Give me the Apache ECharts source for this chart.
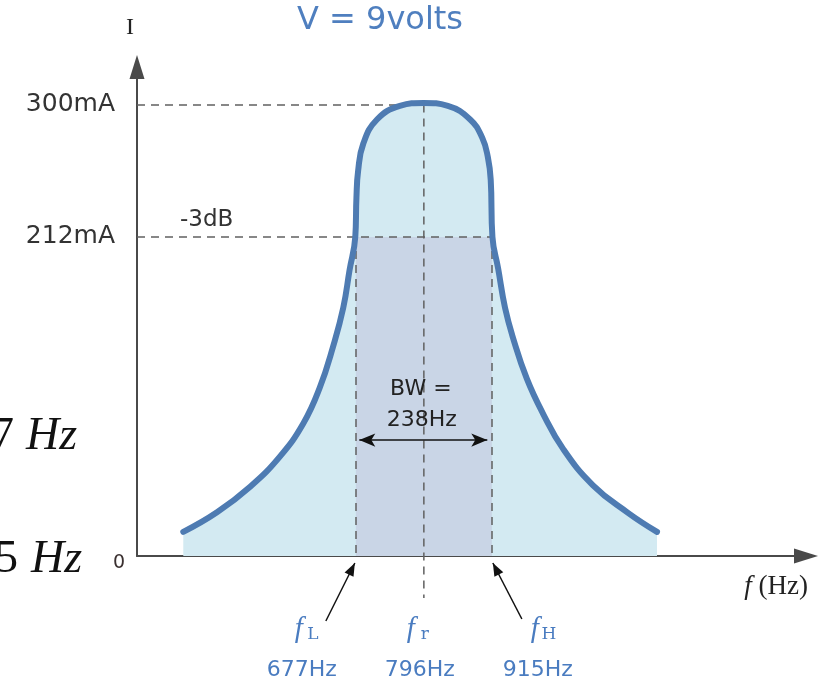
<!DOCTYPE html>
<html><head><meta charset="utf-8">
<script src="https://cdn.jsdelivr.net/npm/echarts@6/dist/echarts.min.js"></script>
<style>html,body{margin:0;padding:0;background:#fff}#c{width:818px;height:682px}</style>
</head><body><div id="c"></div>
<script>
// ---- data ----
const freqHz = [375,434,492,544,585,614,637,655,666,676,678,681,690,714,754,796,838,877,898,908,913,916,926,938,952,976,1004,1040,1092,1152,1204];
const currentMA = [16,29,46,66,88,112,139,165,190,212,238,256,274,290,299,301,299,290,278,265,250,212,191,165,145,118,95,71,47,29,16];
const fLow = 677, fRes = 796, fHigh = 915;
const iPeak = 300, iHalf = 212;
const yTickValues = [0, 212, 300];
const freqNames = [['f','L'], ['f','r'], ['f','H']];
const freqLabels = ['677Hz', '796Hz', '915Hz'];
const bwLines = ['BW =', '238Hz'];
const titleText = 'V = 9volts';
const dbText = '-3dB';

const curve = freqHz.map((f, i) => [f, currentMA[i]]);
const chart = echarts.init(document.getElementById('c'), null, {renderer: 'canvas'});
const axisLineStyle = {color: '#4a4a4a', width: 2};
const dash = {type: [8, 6], color: '#606060', width: 1.5};

chart.setOption({
  animation: false,
  grid: {left: 137, right: 12, top: 67, bottom: 126},
  xAxis: {
    type: 'value', min: 294, max: 1464.75,
    axisLine: {show: true, onZero: false, symbol: ['none', 'triangle'], symbolSize: [15, 24], lineStyle: axisLineStyle},
    axisTick: {show: false}, axisLabel: {show: false}, splitLine: {show: false}
  },
  yAxis: {
    type: 'value', min: 0, max: 324.9,
    axisLine: {show: true, symbol: ['none', 'triangle'], symbolSize: [15, 24], lineStyle: axisLineStyle},
    axisTick: {show: false}, splitLine: {show: false},
    axisLabel: {
      customValues: yTickValues, margin: 12,
      formatter: v => v === 0 ? '{z|0}' : '{m|' + v + 'mA}',
      rich: {
        z: {fontSize: 19, color: '#3a3030', fontFamily: 'DejaVu Sans', padding: [14, 0, 0, 0]},
        m: {fontSize: 25, color: '#333', fontFamily: 'DejaVu Sans', padding: [0, 10, 0, 0]}
      }
    }
  },
  series: [
    {type: 'line', data: curve, smooth: 0.45, symbol: 'none', silent: true,
     lineStyle: {width: 0, opacity: 0}, areaStyle: {color: '#d3eaf2', opacity: 1}, z: 1},
    {type: 'line', data: [], silent: true, z: 2,
     markArea: {z: 2, silent: true, itemStyle: {color: '#c9d5e6', opacity: 1}, data: [[{coord: [fLow, 0]}, {coord: [fHigh, iHalf]}]]}},
    {type: 'line', data: [], silent: true, z: 3,
     markLine: {z: 3, silent: true, symbol: 'none', label: {show: false}, lineStyle: dash, animation: false,
       data: [
         [{coord: [294, iPeak]}, {coord: [fRes, iPeak]}],
         [{coord: [294, iHalf]}, {coord: [fHigh, iHalf]}],
         [{coord: [fLow, iHalf]}, {coord: [fLow, 0]}],
         [{coord: [fHigh, iHalf]}, {coord: [fHigh, 0]}]
       ]}},
    {type: 'line', data: [], silent: true, z: 4,
     markLine: {z: 4, silent: true, symbol: ['arrow', 'arrow'], symbolSize: [10, 16], label: {show: false},
       lineStyle: {type: 'solid', color: '#111', width: 1.5},
       data: [[{coord: [fLow + 6, 77]}, {coord: [fHigh - 8, 77]}]]}},
    {type: 'line', data: curve, smooth: 0.45, symbol: 'none', silent: true,
     lineStyle: {color: '#4e7bb2', width: 6, cap: 'round', join: 'round'}, z: 6}
  ]
});

// ---- annotations positioned through the chart's own scales ----
const P = (x, y) => chart.convertToPixel({gridIndex: 0}, [x, y]);
const g = [];
function txt(x, y, text, font, fill, align, extra) {
  g.push(Object.assign({type: 'text', x: x, y: y, z: 10,
    style: {text: text, font: font, fill: fill, align: align || 'center', verticalAlign: 'middle'}}, extra || {}));
}
function arrow(t, h) {
  g.push({type: 'line', z: 10, shape: {x1: t[0], y1: t[1], x2: h[0], y2: h[1]}, style: {stroke: '#111', lineWidth: 1.5}});
  const dx = h[0] - t[0], dy = h[1] - t[1], L = Math.hypot(dx, dy), ux = dx / L, uy = dy / L;
  const bx = h[0] - ux * 13, by = h[1] - uy * 13;
  g.push({type: 'polygon', z: 10, shape: {points: [[h[0], h[1]], [bx - uy * 5, by + ux * 5], [bx + uy * 5, by - ux * 5]]}, style: {fill: '#111'}});
}

const pLow = P(fLow, 0), pRes = P(fRes, 0), pHigh = P(fHigh, 0);
const pPeak = P(fRes, iPeak), pHalf = P(fLow, iHalf);
const axisY = pLow[1];

// resonance dashed line extending below the axis
g.push({type: 'line', z: 3, shape: {x1: pPeak[0], y1: pPeak[1], x2: pRes[0], y2: axisY + 42},
  style: {stroke: '#606060', lineWidth: 1.5, lineDash: [8, 6]}});

// arrows to fL and fH
arrow([pLow[0] - 30, axisY + 65], [pLow[0] - 1, axisY + 7]);
arrow([pHigh[0] + 30, axisY + 63], [pHigh[0] + 1, axisY + 7]);

// f labels and Hz values
const centers = [pLow[0] - 51, pRes[0] - 7, pHigh[0] + 49];
const hzCenters = [pLow[0] - 54, pRes[0] - 4, pHigh[0] + 46];
const blue = '#4a7cc0';
freqNames.forEach((n, i) => {
  txt(centers[i] - 6, axisY + 73, n[0], 'italic 29px "Liberation Serif"', blue, 'center');
  txt(centers[i] + 8, axisY + 79, n[1], '17px "DejaVu Serif"', blue, 'center');
  txt(hzCenters[i], axisY + 114, freqLabels[i], '22px "DejaVu Sans"', blue, 'center');
});

// bandwidth text
txt(pRes[0] - 3, axisY - 167, bwLines[0], '22px "DejaVu Sans"', '#222', 'center');
txt(pRes[0] - 2, axisY - 136, bwLines[1], '22px "DejaVu Sans"', '#222', 'center');

// -3dB
txt(180, pHalf[1] - 17, dbText, '23px "DejaVu Sans"', '#333', 'left');

// title, axis names
txt(380, 21, titleText, '32px "DejaVu Sans"', '#4f7fbf', 'center');
txt(130, 28, 'I', '24px "Liberation Serif"', '#222', 'center');
g.push({type: 'text', x: 808, y: axisY + 31, z: 10,
  style: {text: '{i|f} (Hz)', font: '27px "Liberation Serif"', fill: '#222', align: 'right', verticalAlign: 'middle',
    rich: {i: {fontStyle: 'italic', fontFamily: 'Liberation Serif', fontSize: 27, fill: '#222'}}}});

// cropped equation fragments at the left edge
txt(14, 437, '7', '46px "Liberation Serif"', '#111', 'right');
txt(26, 437, 'Hz', 'italic 46px "Liberation Serif"', '#111', 'left');
txt(18, 560, '5', '46px "Liberation Serif"', '#111', 'right');
txt(31, 560, 'Hz', 'italic 46px "Liberation Serif"', '#111', 'left');

chart.setOption({graphic: g});
</script></body></html>
